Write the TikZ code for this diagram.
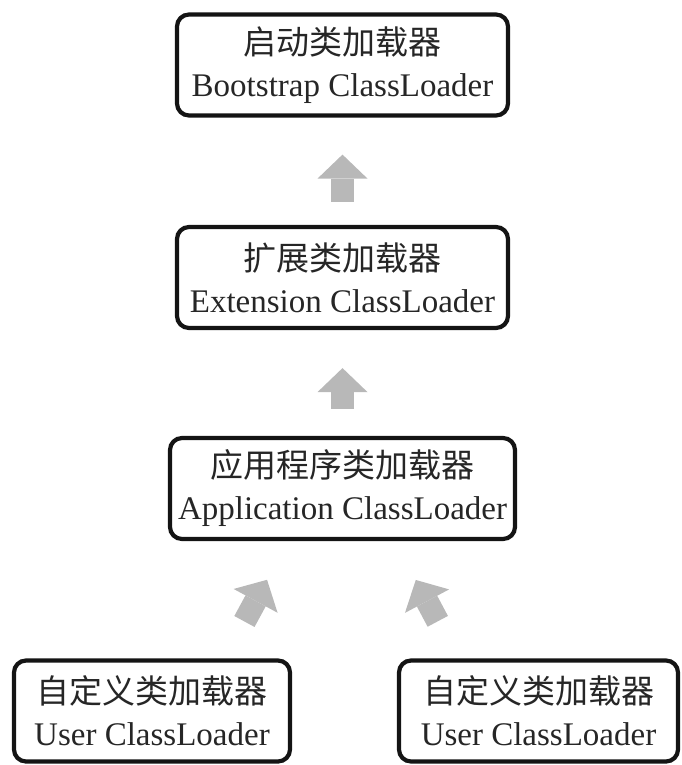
\documentclass[tikz,border=0pt]{standalone}
\usepackage{fontspec}
\setmainfont{Liberation Serif}
\newfontfamily\cjk{Noto Sans CJK SC}
\usetikzlibrary{arrows.meta}
\definecolor{cbox}{RGB}{20,20,20}
\definecolor{carr}{RGB}{184,184,184}
\tikzset{
  loader/.style={rectangle,rounded corners=12pt,draw=cbox,line width=4.2pt,
    minimum height=101pt,align=center,inner sep=4pt,
    font=\fontsize{33}{42}\selectfont,text=black!85},
  up/.style={draw=carr,line width=23pt,
    -{Triangle[width=50pt,length=24pt,line width=0pt]}}
}
\begin{document}
\begin{tikzpicture}[x=1pt,y=-1pt]
 \useasboundingbox (0,0) rectangle (682,765);
 % the chain of loaders, parent on top
 \node[loader,minimum width=331pt] (boot) at (342.5,65)
   {{\cjk 启动类加载器}\\Bootstrap ClassLoader};
 \node[loader,minimum width=331pt] (ext) at (342.5,277.5)
   {{\cjk 扩展类加载器}\\Extension ClassLoader};
 \node[loader,minimum width=345pt] (app) at (342.5,488.5)
   {{\cjk 应用程序类加载器}\\Application ClassLoader};
 \node[loader,minimum width=276pt] (userL) at (152,711)
   {{\cjk 自定义类加载器}\\User ClassLoader};
 \node[loader,minimum width=279pt] (userR) at (538.5,711)
   {{\cjk 自定义类加载器}\\User ClassLoader};
 % delegation arrows
 \draw[up,shorten <=23pt,shorten >=37pt] (ext) -- (boot);
 \draw[up,shorten <=27pt,shorten >=38pt] (app) -- (ext);
 \draw[up,shorten <=42pt,shorten >=44pt] (userL.36) -- (app.-136);
 \draw[up,shorten <=42pt,shorten >=44pt] (userR.147) -- (app.-45);
\end{tikzpicture}
\end{document}
